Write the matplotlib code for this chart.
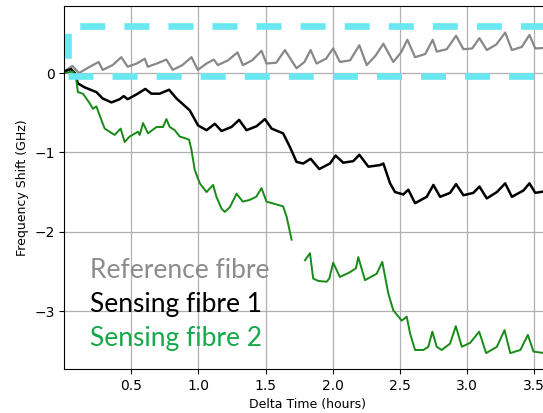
import numpy as np
import matplotlib.pyplot as plt

# reference fibre (grey)
ref_t = [0.0, 0.06, 0.11, 0.18, 0.256, 0.286, 0.36, 0.425, 0.472, 0.54, 0.6, 0.622,
         0.69, 0.761, 0.808, 0.88, 0.948, 0.995, 1.06, 1.114, 1.144, 1.22, 1.291, 1.331,
         1.40, 1.47, 1.507, 1.58, 1.644, 1.731, 1.79, 1.836, 1.88, 1.95, 2.004, 2.054,
         2.13, 2.199, 2.254, 2.32, 2.378, 2.452, 2.51, 2.557, 2.614, 2.69, 2.746, 2.776,
         2.85, 2.92, 2.975, 3.04, 3.094, 3.149, 3.22, 3.286, 3.336, 3.41, 3.467, 3.51, 3.62]
ref_f = [0.02, 0.09, 0.0, 0.07, 0.14, 0.04, 0.1, 0.2, 0.08, 0.12, 0.18, 0.08,
         0.12, 0.17, 0.04, 0.1, 0.2, 0.04, 0.12, 0.17, 0.1, 0.16, 0.26, 0.1,
         0.16, 0.28, 0.12, 0.13, 0.29, 0.06, 0.14, 0.29, 0.12, 0.18, 0.31, 0.14,
         0.16, 0.35, 0.1, 0.22, 0.37, 0.14, 0.26, 0.42, 0.2, 0.24, 0.42, 0.27,
         0.3, 0.47, 0.3, 0.31, 0.44, 0.29, 0.36, 0.51, 0.29, 0.33, 0.48, 0.31, 0.32]

# sensing fibre 1 (black)
s1_t = [0.0, 0.05, 0.08, 0.101, 0.151, 0.239, 0.286, 0.351, 0.413, 0.443, 0.472, 0.537,
        0.604, 0.649, 0.711, 0.781, 0.836, 0.935, 0.997, 1.06, 1.122, 1.172, 1.246, 1.303,
        1.358, 1.433, 1.495, 1.545, 1.631, 1.681, 1.731, 1.781, 1.836, 1.9, 1.98, 2.022,
        2.079, 2.154, 2.199, 2.266, 2.353, 2.378, 2.428, 2.465, 2.527, 2.564, 2.614, 2.701,
        2.751, 2.801, 2.875, 2.92, 2.975, 3.049, 3.094, 3.149, 3.224, 3.286, 3.336, 3.422,
        3.467, 3.51, 3.62]
s1_f = [0.02, 0.05, 0.0, -0.13, -0.18, -0.24, -0.32, -0.37, -0.33, -0.29, -0.33, -0.27,
        -0.2, -0.26, -0.26, -0.21, -0.32, -0.47, -0.66, -0.72, -0.64, -0.73, -0.68, -0.59,
        -0.72, -0.67, -0.58, -0.70, -0.76, -0.93, -1.12, -1.14, -1.08, -1.21, -1.14, -1.04,
        -1.13, -1.11, -1.03, -1.18, -1.16, -1.14, -1.39, -1.5, -1.53, -1.47, -1.64, -1.56,
        -1.41, -1.56, -1.51, -1.40, -1.54, -1.51, -1.43, -1.58, -1.50, -1.39, -1.56, -1.48,
        -1.39, -1.51, -1.48]

# sensing fibre 2 (green), gap around 1.75 h
s2_t = [0.0, 0.064, 0.09, 0.101, 0.139, 0.189, 0.213, 0.239, 0.276, 0.301, 0.338, 0.375,
        0.42, 0.45, 0.487, 0.549, 0.562, 0.587, 0.624, 0.687, 0.736, 0.761, 0.786, 0.823,
        0.86, 0.898, 0.93, 0.948, 0.972, 1.01, 1.06, 1.109, 1.134, 1.172, 1.196, 1.234,
        1.284, 1.33, 1.38, 1.43, 1.47, 1.507, 1.631, 1.657, 1.694, 1.75,
        1.794, 1.831, 1.855, 1.893, 1.955, 1.975, 2.004, 2.054, 2.129, 2.174, 2.191, 2.241,
        2.328, 2.37, 2.415, 2.452, 2.515, 2.552, 2.577, 2.614, 2.676, 2.713, 2.743, 2.776,
        2.813, 2.875, 2.918, 2.963, 3.025, 3.092, 3.144, 3.224, 3.281, 3.324, 3.399, 3.455,
        3.497, 3.62]
s2_f = [0.0, 0.02, -0.09, -0.24, -0.26, -0.38, -0.45, -0.42, -0.59, -0.70, -0.74, -0.78,
        -0.70, -0.87, -0.80, -0.74, -0.78, -0.63, -0.76, -0.68, -0.68, -0.58, -0.68, -0.72,
        -0.80, -0.82, -0.84, -0.97, -1.22, -1.39, -1.5, -1.41, -1.56, -1.71, -1.75, -1.69,
        -1.52, -1.62, -1.60, -1.56, -1.45, -1.62, -1.68, -1.81, -2.1, np.nan,
        -2.36, -2.27, -2.59, -2.62, -2.63, -2.59, -2.39, -2.57, -2.51, -2.46, -2.32, -2.61,
        -2.53, -2.38, -2.78, -2.99, -3.12, -3.07, -3.28, -3.49, -3.49, -3.45, -3.26, -3.45,
        -3.49, -3.41, -3.19, -3.45, -3.40, -3.26, -3.53, -3.45, -3.24, -3.53, -3.49, -3.30,
        -3.51, -3.54]

labels = ['Reference fibre', 'Sensing fibre 1', 'Sensing fibre 2']
label_colors = ['#8c8c8c', '#000000', '#17a84b']

fig = plt.figure(figsize=(5.43, 4.13), dpi=100)
ax = fig.add_axes([0.1184, 0.1065, 0.8945, 0.878])

ax.plot(ref_t, ref_f, color='#888888', lw=1.6)
ax.plot(s1_t, s1_f, color='black', lw=1.8)
ax.plot(s2_t, s2_f, color='#178a17', lw=1.4)

# cyan dashed box
cy = '#6ae8f2'
lw = 4.8
ax.plot([0.027, 3.62], [-0.042, -0.042], color=cy, lw=lw, linestyle=(0, (3.75, 2.86)))
ax.plot([0.027, 3.62], [0.597, 0.597], color=cy, lw=lw, linestyle=(4.84, (3.75, 2.86)))
ax.plot([0.027, 0.027], [0.597, -0.042], color=cy, lw=lw, linestyle=(5.52, (3.75, 2.86)))

ax.set_xlim(0.0, 3.62)
ax.set_ylim(-3.73, 0.84)
ax.set_xticks([0.5, 1.0, 1.5, 2.0, 2.5, 3.0, 3.5])
ax.set_yticks([0, -1, -2, -3])
ax.tick_params(labelsize=10)
ax.grid(True, color='#b0b0b0', lw=0.9)
ax.spines['right'].set_visible(False)
ax.set_xlabel('Delta Time (hours)', fontsize=9)
ax.set_ylabel('Frequency Shift (GHz)', fontsize=9)

for i, (lab, c) in enumerate(zip(labels, label_colors)):
    fig.text(90 / 543, 1 - (278 + 34 * i) / 413, lab, color=c, fontsize=19,
             family='Lato', va='baseline', ha='left')

fig.savefig('out.png', dpi=100)
